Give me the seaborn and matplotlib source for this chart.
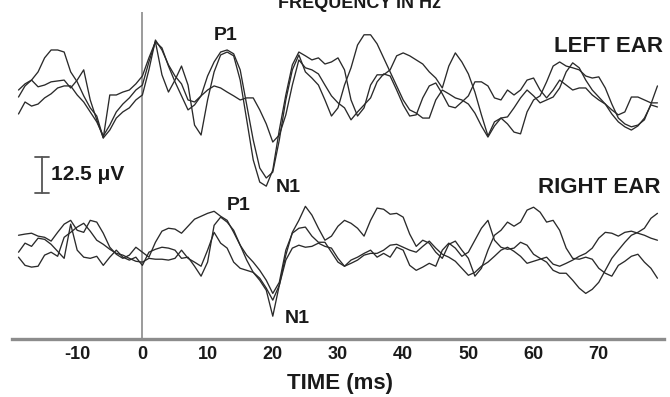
import matplotlib
matplotlib.use("Agg")
import matplotlib.pyplot as plt
import pandas as pd
import seaborn as sns

# Sample times (ms) relative to stimulus onset
time_ms = list(range(-19, 80))

# Averaged evoked responses (uV), three repetitions per ear
left_ear_1 = [1.0, 4.8, 6.8, 9.6, 14.4, 17.1, 17.1, 16.4, 9.6, 6.2, 1.4, -2.7, -5.5, -13.0, 1.7, 1.7, 2.7, 3.4, 5.5, 8.2,
              14.4, 19.9, 8.6, 2.7, 6.8, 11.6, 5.1, -8.6, -12.0, 0.0, 9.6, 15.4, 16.4, 15.1, 6.8, -6.8, -20.5, -28.1, -29.5, -24.0, -10.3, 1.7, 12.0, 16.4,
              15.1, 13.7, 14.4, 12.3, 13.0, 14.4, 10.3, 0.0, -5.5, -2.7, 5.1, 8.6, 8.6, 10.3, 15.1, 16.1, 15.1, 13.7, 12.3, 9.6, 7.5, 4.1, 11.6, 16.1, 13.0,
              8.9, 2.7, -5.1, -12.3, -7.5, -6.2, -8.2, -11.0, -11.6, -4.1, 0.0, 1.4, 6.2, 11.6, 13.0, 11.6, 11.0, 10.3, 8.2, 7.5, 7.9, 4.1, -1.4, -6.2,
              -8.2, -9.2, -8.6, -6.8, -1.4, 4.8]
left_ear_2 = [3.4, 5.5, 6.8, 4.5, 5.1, 6.2, 6.5, 6.8, 4.1, 6.8, 10.3, 0.0, -6.8, -13.0, -10.3, -6.2, -4.1, -2.7, 0.0, 1.7,
              10.3, 20.5, 17.1, 12.0, 8.2, 5.5, 0.0, -0.7, 1.4, 8.2, 13.0, 16.4, 17.1, 15.8, 10.3, -1.7, -13.7, -23.3, -26.7, -24.7, -13.7, 0.0, 10.3, 15.4,
              9.6, 7.5, 5.1, 0.0, -5.5, -2.7, 5.1, 11.0, 18.8, 22.3, 22.3, 19.2, 14.4, 9.6, 4.8, 0.0, -3.4, -4.5, -6.2, -6.2, 0.0, 3.4, 2.1, 0.7, 0.0,
              -1.4, -4.5, -8.9, -12.7, -8.9, -6.2, -5.8, -2.7, 0.7, 3.4, 1.4, -1.0, 0.0, 1.0, 4.1, 9.6, 12.7, 11.0, 6.8, 3.4, 1.0, -1.4, -4.8, -7.5,
              -9.2, -10.3, -8.9, -6.2, -1.7, -2.4]
left_ear_3 = [-4.8, -0.7, -2.1, -1.4, 0.7, 2.1, 4.1, 4.8, 4.8, 1.7, -0.7, -4.1, -7.5, -12.3, -8.6, -4.1, -1.4, 0.7, 3.4, 5.1,
              13.0, 19.9, 17.8, 11.6, 6.2, 1.4, -3.4, -1.7, 1.4, 3.4, 4.8, 4.1, 2.7, 1.4, 0.0, 0.7, 0.7, -3.4, -8.2, -14.4, -12.0, -5.1, 5.1, 13.7,
              11.0, 10.3, 8.9, 5.1, 1.4, -1.0, -2.7, -6.8, -4.1, -1.7, 0.7, 6.2, 8.9, 8.2, 3.4, -1.7, -5.5, -5.1, 0.7, 4.8, 5.8, 2.1, -2.1, -2.7, -0.7,
              1.4, 6.2, 6.2, 4.8, 0.7, 0.0, 3.4, 1.7, 3.4, 6.8, 7.5, 3.4, 0.7, 3.4, 6.8, 5.1, 3.4, 4.1, 4.1, 1.7, 0.0, -1.4, -3.4, -5.1,
              -4.1, 1.0, 1.0, 0.0, -1.0, -1.0]
right_ear_1 = [1.7, 2.1, 2.4, 1.4, 1.0, -0.3, 2.7, 5.5, 6.8, 3.4, 2.7, 6.8, 6.2, 2.4, -2.4, -4.8, -6.2, -5.1, -2.4, -4.1,
               -5.8, -0.7, 3.1, 4.1, 3.8, 2.4, 4.8, 7.2, 8.2, 9.2, 9.9, 8.2, 6.8, 2.7, -1.7, -6.8, -11.0, -13.7, -17.1, -26.0, -15.4, -5.1, 2.7, 6.8,
               11.6, 8.6, 4.1, 0.0, 1.4, 4.8, 6.8, 5.8, 4.1, 1.4, 6.8, 11.0, 10.6, 8.9, 9.2, 7.9, 2.1, -2.1, 0.0, -1.0, -4.1, -6.2, -1.4, -0.3, -3.4,
               -6.2, -12.3, -9.6, -3.4, 1.7, 3.4, 6.2, 4.8, 6.2, 10.3, 11.3, 9.6, 6.2, 6.8, 3.4, -2.7, -6.2, -6.5, -5.8, -6.5, -9.6, -11.3, -12.3, -8.6,
               -7.2, -5.5, -4.8, -7.5, -9.6, -13.0]
right_ear_2 = [-4.1, -1.0, -2.1, 0.7, 0.3, -1.4, -3.8, -6.2, 5.5, -3.4, -5.8, -6.2, -5.5, -8.6, -5.8, -3.4, -5.8, -6.8, -5.8, -8.6,
               -4.1, -3.1, -2.4, -2.7, -3.4, -6.2, -5.8, -8.9, -12.3, -7.5, 5.1, 7.9, 6.2, 3.4, -1.7, -5.1, -7.5, -10.3, -13.7, -18.2, -14.4, -3.4, 2.4, 4.1,
               4.5, 1.4, -0.7, -0.7, -4.1, -7.5, -8.9, -6.8, -5.8, -4.5, -3.4, -5.8, -4.5, -5.8, -2.4, -3.4, -8.6, -10.3, -9.2, -7.9, -8.9, -3.4, -1.0,
               -2.7, -5.5, -4.1, 0.0, 4.1, 6.8, 0.0, -2.4, -3.1, -2.7, -0.7, -1.7, -4.8, -6.2, -7.5, -10.3, -11.3, -11.3, -13.7, -16.4, -18.2, -16.8,
               -14.4, -10.3, -6.2, -3.4, -0.7, 1.7, 2.7, 4.1, 7.5, 9.2]
right_ear_3 = [-5.8, -8.6, -9.2, -8.9, -5.1, -4.1, -5.5, 1.0, 2.7, 4.5, 5.8, 3.1, 0.0, -1.4, -3.1, -4.5, -5.1, -6.2, -7.2, -7.5,
               -6.2, -6.5, -6.5, -6.8, -6.2, -3.4, -6.2, -7.5, -8.9, -3.4, 2.7, -1.0, -2.7, -7.5, -9.6, -10.3, -11.0, -13.0, -16.4, -20.5, -15.4, -6.8, -2.7, -1.7,
               -2.4, -2.1, -1.0, -2.1, -2.7, -6.2, -8.9, -7.9, -6.8, -5.1, -4.5, -4.5, -3.4, -1.7, -1.4, -2.4, -3.4, -4.1, -2.1, -0.3, -2.7, -4.8, -5.8,
               -7.2, -9.6, -12.0, -11.0, -8.9, -7.5, -5.5, -3.4, -2.4, -3.8, -5.5, -7.9, -7.2, -6.5, -5.8, -8.2, -8.9, -7.9, -6.8, -5.5, -4.5, -2.7,
               0.7, 2.7, 2.4, 1.4, 2.7, 3.1, 2.4, 1.7, 0.7, 0.0]

x_ticks = [-10, 0, 10, 20, 30, 40, 50, 60, 70]
scale_uv = 12.5

# Vertical stacking of the two ears on a shared axis
ear_offset = {"LEFT EAR": 0.0, "RIGHT EAR": -48.0}

traces = {
    ("LEFT EAR", 1): left_ear_1, ("LEFT EAR", 2): left_ear_2, ("LEFT EAR", 3): left_ear_3,
    ("RIGHT EAR", 1): right_ear_1, ("RIGHT EAR", 2): right_ear_2, ("RIGHT EAR", 3): right_ear_3,
}
rows = []
for (ear, rep), vals in traces.items():
    for t, v in zip(time_ms, vals):
        rows.append({"time": t, "uv": v, "ear": ear, "trace": f"{ear}-{rep}",
                     "y": v + ear_offset[ear]})
df = pd.DataFrame(rows)

sns.set_theme(style="white")
plt.rcParams["font.family"] = ["Liberation Sans", "DejaVu Sans"]
plt.rcParams["font.weight"] = "bold"

fig = plt.figure(figsize=(6.7, 3.97), dpi=100)
ax = fig.add_axes([0.0179, 0.1461, 0.9731, 0.8237])

sns.lineplot(data=df, x="time", y="y", units="trace", estimator=None,
             color="#2a2a2a", linewidth=0.95, ax=ax, legend=False)

ax.axvline(0, color="#8a8a8a", linewidth=1.2, zorder=0)

ax.set_xlim(-20, 80)
ax.set_ylim(-81.8, 30.1)
ax.set_xticks(x_ticks)
ax.set_xticklabels([str(v) for v in x_ticks], fontsize=13, fontweight="bold", color="#1a1a1a")
ax.set_yticks([])
ax.set_xlabel("")
ax.set_ylabel("")
for side in ("top", "right", "left"):
    ax.spines[side].set_visible(False)
ax.spines["bottom"].set_color("#8c8c8c")
ax.spines["bottom"].set_linewidth(2.4)
ax.tick_params(axis="x", direction="in", length=5, width=1.0, color="#8c8c8c", pad=5)

txt = dict(fontweight="bold", color="#1a1a1a")
ax.text(12.7, 21.9, "P1", ha="center", va="center", fontsize=14, **txt)
ax.text(22.3, -30.1, "N1", ha="center", va="center", fontsize=14, **txt)
ax.text(14.7, -36.0, "P1", ha="center", va="center", fontsize=14, **txt)
ax.text(23.7, -74.7, "N1", ha="center", va="center", fontsize=14, **txt)
ax.text(79.8, 18.2, "LEFT EAR", ha="right", va="center", fontsize=16, **txt)
ax.text(79.4, -30.1, "RIGHT EAR", ha="right", va="center", fontsize=16, **txt)

# Amplitude scale bar
bar_x, bar_top = -15.4, -19.4
ax.plot([bar_x, bar_x], [bar_top, bar_top - scale_uv], color="#555555", lw=1.3)
ax.plot([bar_x - 1.1, bar_x + 1.1], [bar_top, bar_top], color="#555555", lw=1.3)
ax.plot([bar_x - 1.1, bar_x + 1.1], [bar_top - scale_uv, bar_top - scale_uv], color="#555555", lw=1.3)
ax.text(-14.0, bar_top - scale_uv / 2, f"{scale_uv} μV", ha="left", va="center", fontsize=15, **txt)

fig.text(0.507, 0.035, "TIME (ms)", ha="center", va="center", fontsize=16, **txt)
fig.text(0.537, 0.979, "FREQUENCY IN Hz", ha="center", va="baseline", fontsize=13, **txt)

fig.savefig("out.png", dpi=100, facecolor="white")
